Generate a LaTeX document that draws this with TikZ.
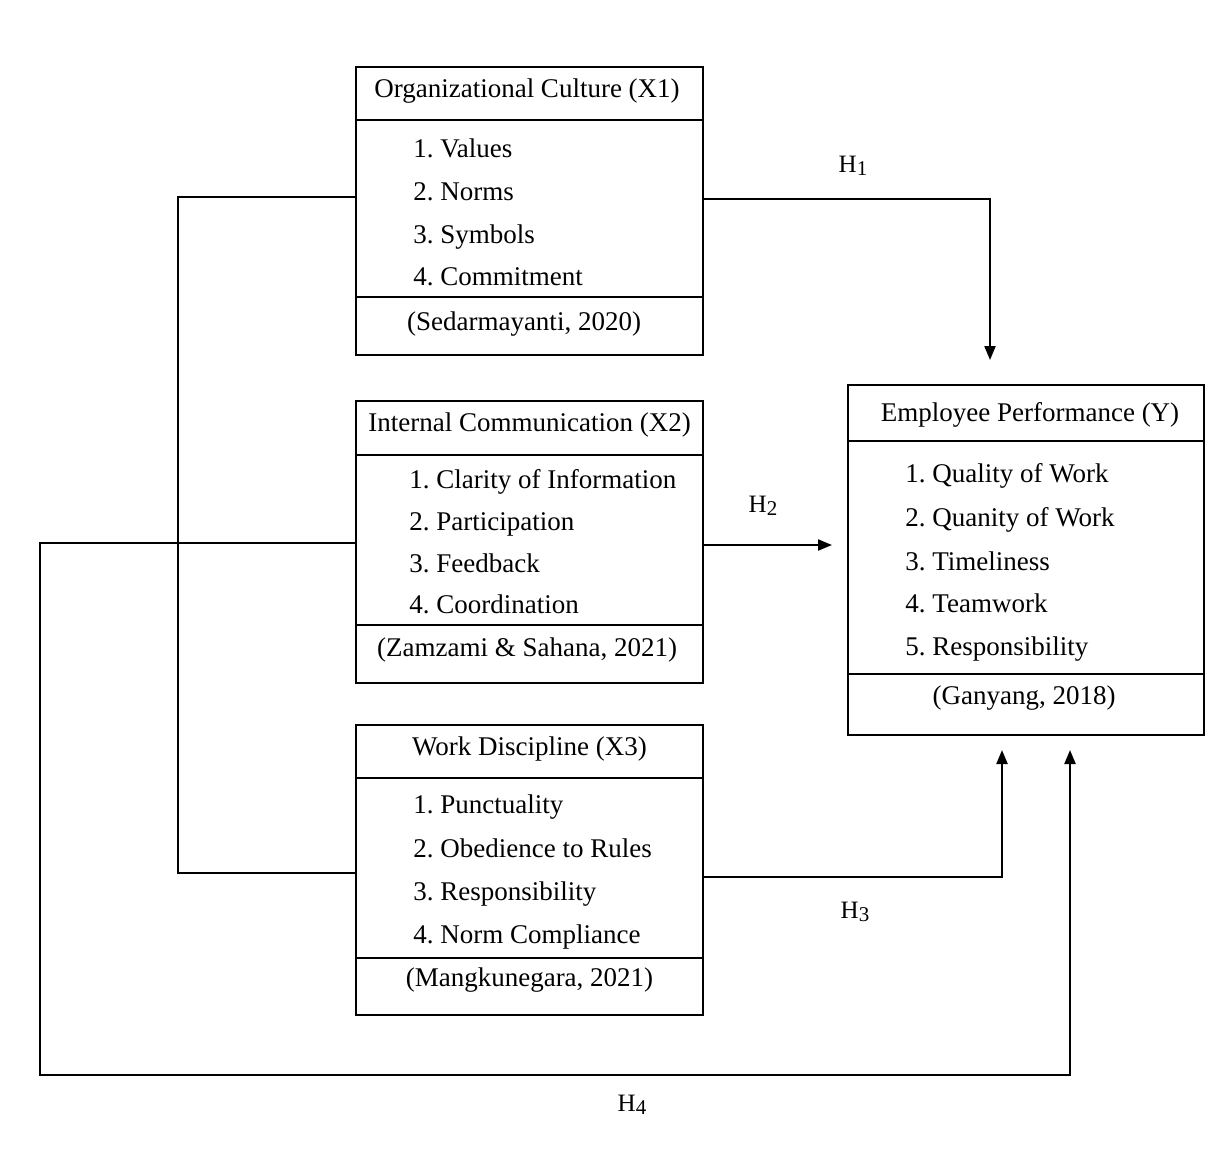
\documentclass[tikz,border=0pt]{standalone}
\usepackage{fontspec}
\setmainfont{Liberation Serif}
\usetikzlibrary{arrows.meta,calc}
\frenchspacing
\newcommand{\hsub}[1]{H\raisebox{-1.5pt}{\fontsize{10.5}{11}\selectfont #1}}
\begin{document}
\begin{tikzpicture}[x=0.5pt,y=-0.5pt,
  box/.style={draw,line width=1.1pt,inner sep=0pt},
  sep/.style={line width=1.1pt},
  item/.style={anchor=base west,inner sep=0pt,font=\fontsize{13.5}{16}\selectfont},
  ttl/.style={anchor=base,inner sep=0pt,font=\fontsize{13.5}{16}\selectfont},
  hyp/.style={inner sep=0pt,font=\fontsize{12.5}{14}\selectfont},
  conn/.style={line width=1.1pt},
  arr/.style={conn,-{Triangle[length=7pt,width=5.5pt]}}]
\useasboundingbox[fill=white] (0,0) rectangle (1225,1148);

% ---- X1 ----
\node[box,minimum width=173.5pt,minimum height=144pt] (X1) at (529.5,211) {};
\draw[sep] (356,120) -- (703,120);
\draw[sep] (356,297) -- (703,297);
\node[ttl] (x1t) at (527,97) {Organizational Culture (X1)};
\node[item] (x1a) at (413,157) {1. Values};
\node[item] (x1b) at (413,200) {2. Norms};
\node[item] (x1c) at (413,243) {3. Symbols};
\node[item] (x1d) at (413,285) {4. Commitment};
\node[ttl] (x1s) at (524,330) {(Sedarmayanti, 2020)};

% ---- X2 ----
\node[box,minimum width=173.5pt,minimum height=141pt] (X2) at (529.5,542) {};
\draw[sep] (356,455) -- (703,455);
\draw[sep] (356,625) -- (703,625);
\node[ttl] (x2t) at (529.5,431) {Internal Communication (X2)};
\node[item] (x2a) at (409,488) {1. Clarity of Information};
\node[item] (x2b) at (409,530) {2. Participation};
\node[item] (x2c) at (409,572) {3. Feedback};
\node[item] (x2d) at (409,613) {4. Coordination};
\node[ttl] (x2s) at (527,656) {(Zamzami \& Sahana, 2021)};

% ---- X3 ----
\node[box,minimum width=173.5pt,minimum height=145pt] (X3) at (529.5,870) {};
\draw[sep] (356,778) -- (703,778);
\draw[sep] (356,958) -- (703,958);
\node[ttl] (x3t) at (529.5,755) {Work Discipline (X3)};
\node[item] (x3a) at (413,813) {1. Punctuality};
\node[item] (x3b) at (413,857) {2. Obedience to Rules};
\node[item] (x3c) at (413,900) {3. Responsibility};
\node[item] (x3d) at (413,943) {4. Norm Compliance};
\node[ttl] (x3s) at (529.5,986) {(Mangkunegara, 2021)};

% ---- Y ----
\node[box,minimum width=178pt,minimum height=175pt] (Y) at (1026,560) {};
\draw[sep] (848,441) -- (1204,441);
\draw[sep] (848,674) -- (1204,674);
\node[ttl] (yt) at (1030,421) {Employee Performance (Y)};
\node[item] (ya) at (905,482) {1. Quality of Work};
\node[item] (yb) at (905,526) {2. Quanity of Work};
\node[item] (yc) at (905,570) {3. Timeliness};
\node[item] (yd) at (905,612) {4. Teamwork};
\node[item] (ye) at (905,655) {5. Responsibility};
\node[ttl] (ys) at (1024,704) {(Ganyang, 2018)};

% ---- connector ends ----
\coordinate (h1end) at (990,360);
\coordinate (h2end) at (832,545);
\coordinate (h3end) at (1002,750);
\coordinate (h4end) at (1070,750);

% ---- connectors ----
\draw[arr] (X1.east |- 0,199) -| (h1end);
\draw[arr] (X2.east |- h2end) -- (h2end);
\draw[arr] (X3.east |- 0,877) -| (h3end);
\draw[conn] (X1.west |- 0,197) -- (178,197) |- (X3.west |- 0,873);
\draw[arr] (X2.west |- 0,543) -- (40,543) -- (40,1075) -| (h4end);

% ---- labels ----
\node[hyp] (H1) at (853,166) {\hsub{1}};
\node[hyp] (H2) at (763,506) {\hsub{2}};
\node[hyp] (H3) at (855,912) {\hsub{3}};
\node[hyp] (H4) at (632,1105) {\hsub{4}};
\end{tikzpicture}
\end{document}
